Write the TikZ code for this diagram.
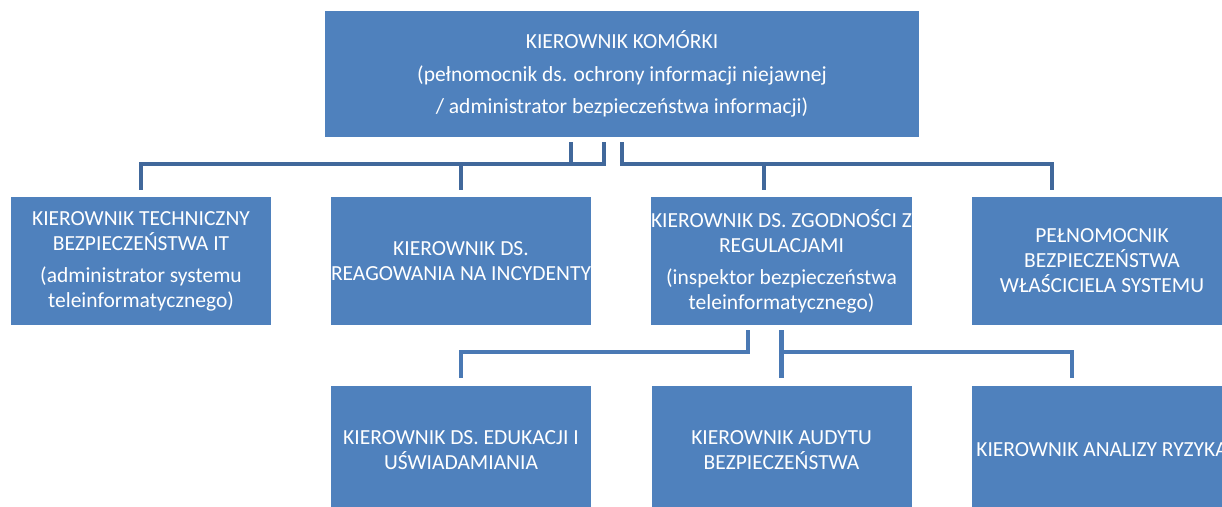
\documentclass[tikz,border=0pt]{standalone}
\usepackage{fontspec}
\setmainfont{Carlito}
\usepackage{tikz}
\usetikzlibrary{positioning,calc}
\definecolor{boxblue}{HTML}{4F81BD}
\definecolor{linkdark}{HTML}{41689B}
\definecolor{linklight}{HTML}{4A79B4}

\begin{document}
\begin{tikzpicture}[
  x=1pt,y=1pt,
  node distance=61pt and 60pt,
  unit/.style={fill=boxblue,text=white,align=center,inner sep=0pt,outer sep=0pt,
    minimum width=260pt,minimum height=128pt,font=\fontsize{21.5}{25}\selectfont},
  head/.style={unit,minimum width=594pt,minimum height=126pt},
  link/.style={draw=linkdark,line width=4.5pt},
  sublink/.style={draw=linklight,line width=4.5pt}
]
\useasboundingbox[fill=white] (0,0) rectangle (1222,-506);
\node[head] (top) at (622,-74) {KIEROWNIK KOMÓRKI\\[7.5pt](pełnomocnik ds. ochrony informacji niejawnej\\[7.5pt]/ administrator bezpieczeństwa informacji)};
\node[unit] (tech) at (141,-261) {KIEROWNIK TECHNICZNY\\BEZPIECZEŃSTWA IT\\[7pt](administrator systemu\\teleinformatycznego)};
\node[unit,right=of tech] (incyd) {KIEROWNIK DS.\\REAGOWANIA NA INCYDENTY};
\node[unit,right=of incyd] (zgod) {KIEROWNIK DS. ZGODNOŚCI Z\\REGULACJAMI\\[7pt](inspektor bezpieczeństwa\\teleinformatycznego)};
\node[unit,right=of zgod] (wlasc) {PEŁNOMOCNIK\\BEZPIECZEŃSTWA\\WŁAŚCICIELA SYSTEMU};
\node[unit,below=of incyd] (eduk) {KIEROWNIK DS. EDUKACJI I\\UŚWIADAMIANIA};
\node[unit,below=of zgod] (audyt) {KIEROWNIK AUDYTU\\BEZPIECZEŃSTWA};
\node[unit,below=of wlasc] (ryzyko) {KIEROWNIK ANALIZY RYZYKA};
% left branch of the head
\draw[link] ([xshift=246pt,yshift=-5pt]top.south west) -- ++(0,-22pt);
\draw[link] ([xshift=279pt,yshift=-5pt]top.south west) |- ([yshift=33pt]tech.north) -- ([yshift=7pt]tech.north);
\draw[link] ([yshift=33pt]incyd.north) -- ([yshift=7pt]incyd.north);
% right branch of the head
\draw[link] ([xshift=297pt,yshift=-5pt]top.south west) |- ([xshift=80pt,yshift=33pt]wlasc.north west) -- ([xshift=80pt,yshift=7pt]wlasc.north west);
\draw[link] ([xshift=113pt,yshift=33pt]zgod.north west) -- ([xshift=113pt,yshift=7pt]zgod.north west);
% under the compliance manager
\draw[sublink] ([xshift=97pt,yshift=-5pt]zgod.south west) |- ([yshift=34pt]eduk.north) -- ([yshift=8pt]eduk.north);
\draw[sublink] ([yshift=-5pt]zgod.south) -- ([yshift=8pt]audyt.north);
\draw[sublink] ([yshift=34pt]audyt.north) -| ([xshift=100pt,yshift=8pt]ryzyko.north west);
\end{tikzpicture}
\end{document}
